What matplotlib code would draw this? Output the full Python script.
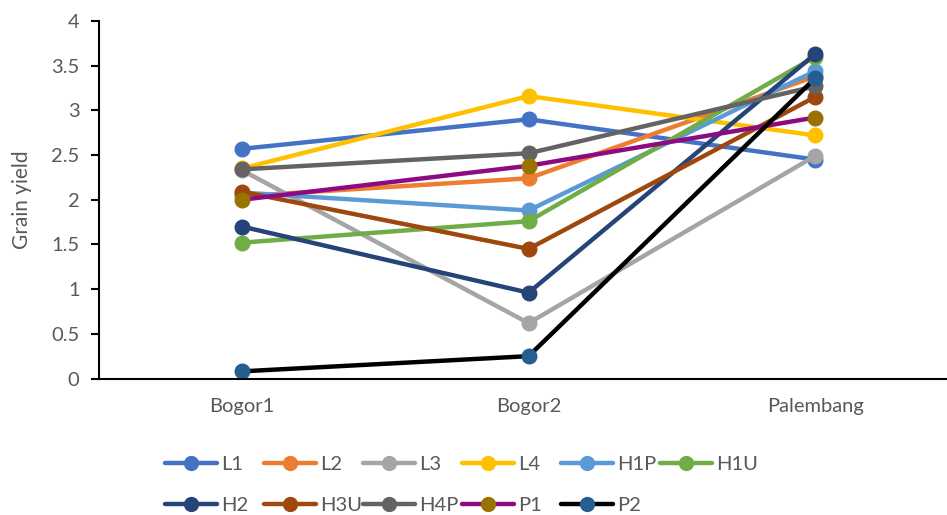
import matplotlib
matplotlib.use("Agg")
import matplotlib.pyplot as plt
from matplotlib.lines import Line2D

plt.rcParams['font.family'] = ['Lato', 'DejaVu Sans']

categories = ["Bogor1", "Bogor2", "Palembang"]
series_names = ["L1", "L2", "L3", "L4", "H1P", "H1U", "H2", "H3U", "H4P", "P1", "P2"]
L1 = [2.57, 2.90, 2.45]
L2 = [2.04, 2.24, 3.38]
L3 = [2.33, 0.62, 2.49]
L4 = [2.35, 3.16, 2.72]
H1P = [2.08, 1.88, 3.44]
H1U = [1.52, 1.76, 3.60]
H2 = [1.70, 0.96, 3.63]
H3U = [2.09, 1.45, 3.15]
H4P = [2.34, 2.52, 3.27]
P1 = [2.00, 2.38, 2.92]
P2 = [0.08, 0.25, 3.36]
values = [L1, L2, L3, L4, H1P, H1U, H2, H3U, H4P, P1, P2]
line_colors = ["#4472C4", "#ED7D31", "#A5A5A5", "#FFC000", "#5B9BD5", "#70AD47",
               "#264478", "#9E480E", "#636363", "#8E0A82", "#000000"]
marker_colors = ["#4472C4", "#ED7D31", "#A5A5A5", "#FFC000", "#5B9BD5", "#70AD47",
                 "#264478", "#9E480E", "#636363", "#997300", "#255E91"]
yticks = [0, 0.5, 1, 1.5, 2, 2.5, 3, 3.5, 4]
ytick_labels = ["0", "0.5", "1", "1.5", "2", "2.5", "3", "3.5", "4"]

W, H = 947, 515
fig = plt.figure(figsize=(W / 100, H / 100), dpi=100)
ax = fig.add_axes([99/W, (H-378.5)/H, 1 - 99/W, (378.5-21)/H])

x = list(range(len(categories)))
LW, MS = 3.2, 10.5
for name, vals, lc, mc in zip(series_names, values, line_colors, marker_colors):
    ax.plot(x, vals, color=lc, linewidth=LW, marker='o', markersize=MS,
            markerfacecolor=mc, markeredgecolor=mc, label=name,
            solid_capstyle='round')

ax.set_xlim(-0.499, 2.46)
ax.set_ylim(0, 4)
ax.set_yticks(yticks)
ax.set_yticklabels(ytick_labels)
ax.set_xticks(x)
ax.set_xticklabels(categories)
FS = 14.5
ax.tick_params(axis='y', direction='out', length=6, width=1.5, colors='black',
               labelcolor='#595959', labelsize=FS, pad=8)
ax.tick_params(axis='x', length=0, labelcolor='#595959', labelsize=FS, pad=14)
for s in ['top', 'right']:
    ax.spines[s].set_visible(False)
for s in ['left', 'bottom']:
    ax.spines[s].set_linewidth(1.5)
    ax.spines[s].set_color('black')
ax.set_ylabel("Grain yield", color='#595959', fontsize=FS + 0.5, labelpad=14)

# Legend laid out like the original: 6 per row, equal spacing
for i, (name, lc, mc) in enumerate(zip(series_names, line_colors, marker_colors)):
    row, col = divmod(i, 6)
    x0 = 165 + 99 * col
    yc = 463 + 41 * row
    fx0, fx1 = x0 / W, (x0 + 52) / W
    fy = 1 - yc / H
    fig.add_artist(Line2D([fx0, fx1], [fy, fy], transform=fig.transFigure,
                          color=lc, linewidth=LW, solid_capstyle='round'))
    fig.add_artist(Line2D([(fx0 + fx1) / 2], [fy], transform=fig.transFigure,
                          marker='o', markersize=MS * 0.95, color=mc, linestyle='none'))
    fig.text((x0 + 56) / W, fy, name, color='#595959', fontsize=FS,
             va='center_baseline', ha='left')

fig.savefig("out.png", dpi=100)
